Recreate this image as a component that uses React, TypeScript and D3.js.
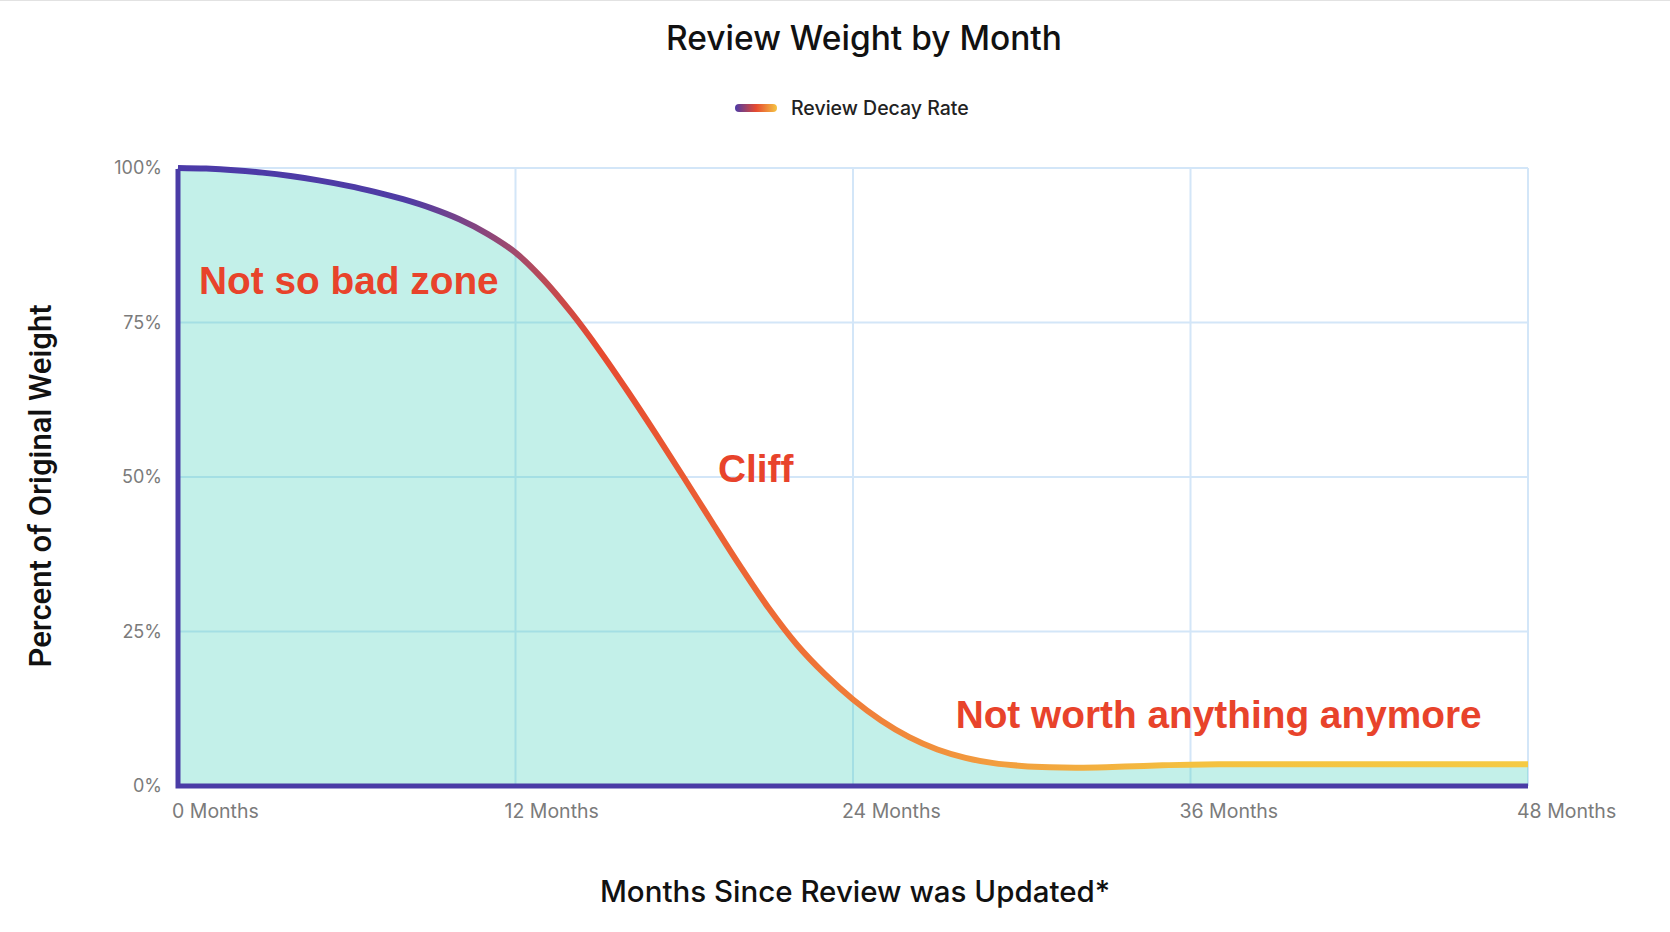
import React, { useEffect, useRef } from 'react';
import * as d3 from 'd3';

// months since review update
const months = [0, 1, 2, 3, 4, 5, 6, 7, 8, 9, 10, 11, 12, 13, 14, 15, 16, 17, 18, 19, 20, 21, 22, 23, 24, 25, 26, 27, 28, 29, 30, 31, 32, 33, 34, 35, 36, 37, 38, 40, 42, 44, 46, 48];
const weights = [100, 99.9, 99.65, 99.25, 98.7, 98.0, 97.15, 96.15, 94.95, 93.5, 91.7, 89.35, 86.3, 81.9, 76.5, 70.4, 63.8, 56.9, 49.8, 42.6, 35.5, 28.8, 22.9, 18.1, 14.0, 10.6, 7.9, 5.9, 4.55, 3.7, 3.25, 3.03, 2.97, 3.05, 3.2, 3.35, 3.45, 3.5, 3.52, 3.52, 3.52, 3.52, 3.52, 3.52];

const xTicks = [0, 12, 24, 36, 48];
const xTickLabels = ['0 Months', '12 Months', '24 Months', '36 Months', '48 Months'];
const yTicks = [0, 25, 50, 75, 100];
const yTickLabels = ['0%', '25%', '50%', '75%', '100%'];

const annotations = [
    { text: 'Not so bad zone', month: 0.75, value: 79.6 },
    { text: 'Cliff', month: 19.2, value: 49.2 },
    { text: 'Not worth anything anymore', month: 27.65, value: 9.4 },
];

const gradientStops = [
    { offset: 0, color: '#4b3aa8' },
    { offset: 0.17, color: '#4f3ca4' },
    { offset: 0.25, color: '#a24a6c' },
    { offset: 0.31, color: '#e64a30' },
    { offset: 0.45, color: '#ee6d36' },
    { offset: 0.6, color: '#f29c3e' },
    { offset: 0.75, color: '#f4c140' },
    { offset: 1, color: '#f5ca44' },
];

const App: React.FC = () => {
    const chartRef = useRef<SVGSVGElement>(null);

    useEffect(() => {
        const svg = d3.select(chartRef.current);
        svg.selectAll("*").remove();

        const margin = { top: 168, right: 142, bottom: 146, left: 178 };
        const W = 1670;
        const H = 932;
        const width = W - margin.left - margin.right;
        const height = H - margin.top - margin.bottom;

        const x = d3.scaleLinear().domain([0, 48]).range([margin.left, margin.left + width]);
        const y = d3.scaleLinear().domain([0, 100]).range([margin.top + height, margin.top]);

        const defs = svg.append("defs");
        const grad = defs.append("linearGradient")
            .attr("id", "decay")
            .attr("gradientUnits", "userSpaceOnUse")
            .attr("x1", x(0)).attr("x2", x(48)).attr("y1", 0).attr("y2", 0);
        grad.selectAll("stop").data(gradientStops).enter().append("stop")
            .attr("offset", d => d.offset)
            .attr("stop-color", d => d.color);

        const legendGrad = defs.append("linearGradient")
            .attr("id", "legendDecay")
            .attr("x1", 0).attr("x2", 1).attr("y1", 0).attr("y2", 0);
        legendGrad.selectAll("stop")
            .data([{ o: 0, c: '#4b3aa8' }, { o: 0.5, c: '#e64a30' }, { o: 1, c: '#f5c443' }])
            .enter().append("stop")
            .attr("offset", d => d.o)
            .attr("stop-color", d => d.c);

        svg.append("line")
            .attr("x1", 0).attr("x2", W).attr("y1", 0.5).attr("y2", 0.5)
            .attr("stroke", "#e2e2e2");

        // title + legend
        svg.append("text")
            .attr("x", 864).attr("y", 50)
            .attr("text-anchor", "middle")
            .style("font-family", "Inter, 'Noto Sans', sans-serif")
            .style("font-weight", 500)
            .style("font-size", "33.5px")
            .attr("fill", "#111")
            .text("Review Weight by Month");

        svg.append("rect")
            .attr("x", 735).attr("y", 104).attr("width", 42).attr("height", 8).attr("rx", 4)
            .attr("fill", "url(#legendDecay)");
        svg.append("text")
            .attr("x", 791).attr("y", 115)
            .style("font-family", "Inter, 'Noto Sans', sans-serif")
            .style("font-weight", 500)
            .style("font-size", "19.5px")
            .attr("fill", "#222")
            .text("Review Decay Rate");

        // grid
        const grid = svg.append("g").attr("stroke", "#d3e6f8").attr("stroke-width", 2);
        grid.selectAll("line.h").data(yTicks).enter().append("line")
            .attr("x1", x(0)).attr("x2", x(48))
            .attr("y1", d => y(d)).attr("y2", d => y(d));
        grid.selectAll("line.v").data(xTicks).enter().append("line")
            .attr("y1", y(0)).attr("y2", y(100))
            .attr("x1", d => x(d)).attr("x2", d => x(d));

        const points = months.map((m, i) => [m, weights[i]] as [number, number]);

        const area = d3.area<[number, number]>()
            .x(d => x(d[0]))
            .y0(y(0))
            .y1(d => y(d[1]))
            .curve(d3.curveCatmullRom.alpha(0.5));
        svg.append("path")
            .datum(points)
            .attr("d", area)
            .attr("fill", "rgba(60, 205, 183, 0.31)");

        const line = d3.line<[number, number]>()
            .x(d => x(d[0]))
            .y(d => y(d[1]))
            .curve(d3.curveCatmullRom.alpha(0.5));
        svg.append("path")
            .datum(points)
            .attr("d", line)
            .attr("fill", "none")
            .attr("stroke", "url(#decay)")
            .attr("stroke-width", 6);

        // axis lines
        svg.append("path")
            .attr("d", `M${x(0)},${y(100) + 1}V${y(0)}H${x(48)}`)
            .attr("fill", "none")
            .attr("stroke", "#4a3ca6")
            .attr("stroke-width", 5);

        // tick labels
        svg.append("g").selectAll("text").data(yTicks).enter().append("text")
            .attr("x", x(0) - 16)
            .attr("y", d => y(d))
            .attr("dy", "0.36em")
            .attr("text-anchor", "end")
            .style("font-family", "Inter, 'Noto Sans', sans-serif")
            .style("font-size", "18px")
            .attr("fill", "#7b7b7b")
            .text((d, i) => yTickLabels[i]);

        svg.append("g").selectAll("text").data(xTicks).enter().append("text")
            .attr("x", d => x(d) + (d === 0 ? -6 : -11))
            .attr("y", 818)
            .style("font-family", "Inter, 'Noto Sans', sans-serif")
            .style("font-size", "19.5px")
            .attr("fill", "#7b7b7b")
            .text((d, i) => xTickLabels[i]);

        // axis titles
        svg.append("text")
            .attr("x", 855).attr("y", 902)
            .attr("text-anchor", "middle")
            .style("font-family", "Inter, 'Noto Sans', sans-serif")
            .style("font-weight", 500)
            .style("font-size", "29.5px")
            .attr("fill", "#111")
            .text("Months Since Review was Updated*");

        svg.append("text")
            .attr("transform", "translate(51,486) rotate(-90)")
            .attr("text-anchor", "middle")
            .style("font-family", "Roboto, 'Liberation Sans', sans-serif")
            .style("font-weight", 500)
            .style("font-size", "31px")
            .attr("fill", "#111")
            .text("Percent of Original Weight");

        // annotations
        svg.append("g").selectAll("text").data(annotations).enter().append("text")
            .attr("x", d => x(d.month))
            .attr("y", d => y(d.value))
            .style("font-family", "'Liberation Sans', Arial, sans-serif")
            .style("font-weight", 700)
            .style("font-size", "38.8px")
            .attr("fill", "#e8432b")
            .text(d => d.text);
    }, []);

    return <svg ref={chartRef} width="1670" height="932" style={{ position: 'absolute', left: 0, top: 0, background: '#fff' }}></svg>;
};

export default App;
